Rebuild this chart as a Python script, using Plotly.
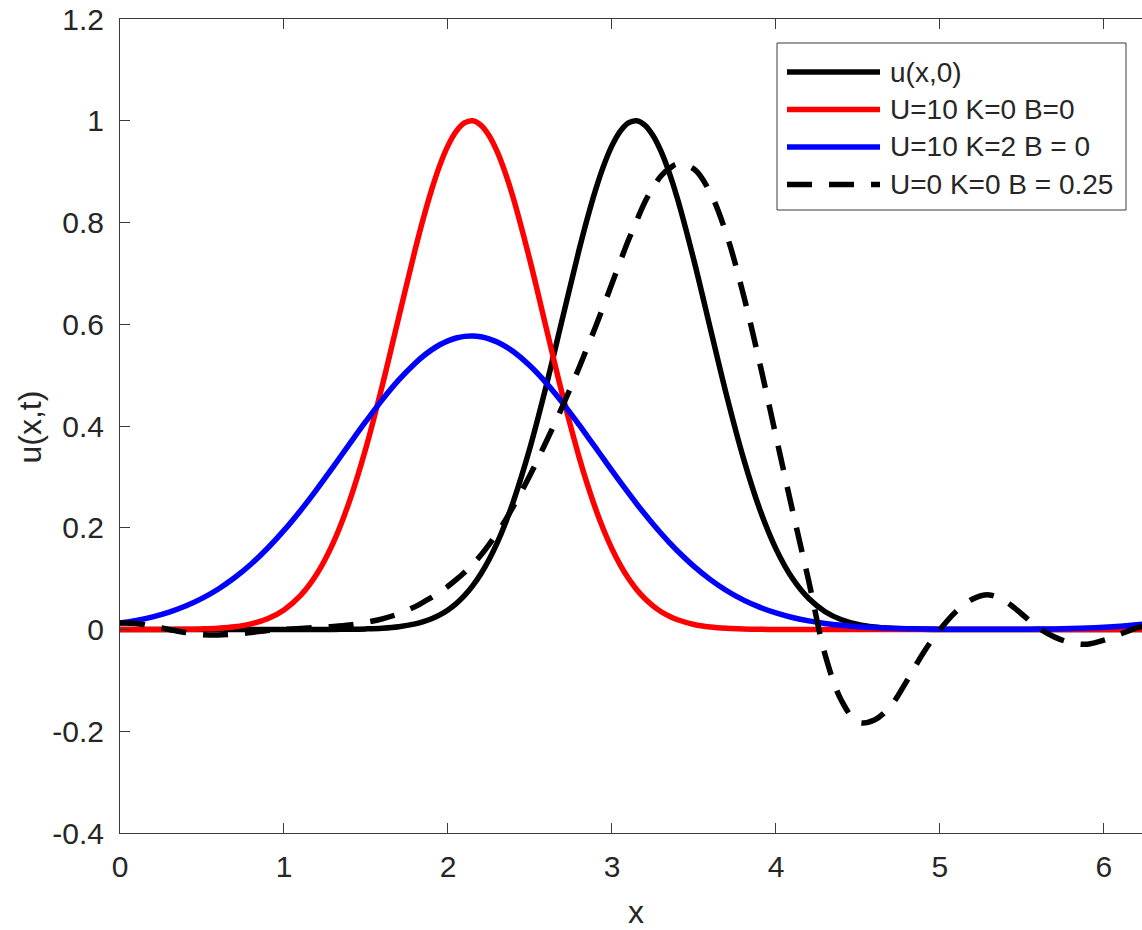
import plotly.graph_objects as go

# ---------------- data ----------------
x = [0.0, 0.1, 0.2, 0.3, 0.4, 0.5, 0.6, 0.7, 0.8, 0.9,
     1.0, 1.1, 1.2, 1.3, 1.4, 1.5, 1.6, 1.7, 1.8, 1.85, 1.9, 1.95,
     2.0, 2.05, 2.1, 2.15, 2.2, 2.25, 2.3, 2.35, 2.4, 2.5, 2.6, 2.7, 2.8, 2.85, 2.9, 2.95,
     3.0, 3.05, 3.1, 3.15, 3.2, 3.25, 3.3, 3.35, 3.4, 3.5, 3.6, 3.7, 3.8, 3.9,
     4.0, 4.1, 4.2, 4.3, 4.4, 4.5, 4.6, 4.7, 4.8, 4.9,
     5.0, 5.1, 5.2, 5.3, 5.4, 5.5, 5.6, 5.7, 5.8, 5.9,
     6.0, 6.1, 6.2, 6.3]

u_initial = [0, 0, 0, 0, 0, 0, 0, 0, 0, 0,
             0, 0, 0, 0.0002, 0.0005, 0.0012, 0.0026, 0.0055, 0.0111, 0.0154, 0.0212, 0.0287,
             0.0385, 0.0508, 0.0664, 0.0856, 0.1090, 0.1370, 0.1702, 0.2088, 0.2529, 0.3573, 0.4803, 0.6142, 0.7470, 0.8085, 0.8642, 0.9123,
             0.9511, 0.9792, 0.9957, 1.0, 0.9915, 0.9710, 0.9392, 0.8971, 0.8463, 0.7253, 0.5914, 0.4586, 0.3383, 0.2374,
             0.1585, 0.1006, 0.0608, 0.0349, 0.0191, 0.0099, 0.0049, 0.0023, 0.0010, 0.0004,
             0, 0, 0, 0, 0, 0, 0, 0, 0, 0,
             0, 0, 0, 0]

u_advect = [0, 0, 0, 0.0002, 0.0005, 0.0012, 0.0026, 0.0055, 0.0111, 0.0212,
            0.0385, 0.0664, 0.1090, 0.1702, 0.2529, 0.3573, 0.4803, 0.6142, 0.7470, 0.8085, 0.8642, 0.9123,
            0.9511, 0.9792, 0.9957, 1.0, 0.9915, 0.9710, 0.9392, 0.8971, 0.8463, 0.7253, 0.5914, 0.4586, 0.3383, 0.2852, 0.2374, 0.1952,
            0.1585, 0.1271, 0.1006, 0.0787, 0.0608, 0.0464, 0.0349, 0.0260, 0.0191, 0.0099, 0.0049, 0.0023, 0.0010, 0.0004,
            0, 0, 0, 0, 0, 0, 0, 0, 0, 0,
            0, 0, 0, 0, 0, 0, 0, 0, 0, 0,
            0, 0, 0, 0]

u_diffuse = [0.0126, 0.0179, 0.0249, 0.0342, 0.0461, 0.0611, 0.0796, 0.1021, 0.1288, 0.1597,
             0.1948, 0.2336, 0.2756, 0.3198, 0.3649, 0.4094, 0.4519, 0.4905, 0.5235, 0.5376, 0.5496, 0.5597,
             0.5674, 0.5730, 0.5762, 0.5770, 0.5754, 0.5714, 0.5651, 0.5565, 0.5458, 0.5184, 0.4843, 0.4450, 0.4021, 0.3798, 0.3573, 0.3347,
             0.3122, 0.2901, 0.2684, 0.2472, 0.2269, 0.2073, 0.1886, 0.1709, 0.1542, 0.1240, 0.0981, 0.0762, 0.0583, 0.0439,
             0.0325, 0.0236, 0.0169, 0.0119, 0.0082, 0.0056, 0.0038, 0.0025, 0.0016, 0.0010,
             0.0007, 0.0005, 0.0003, 0.0003, 0.0004, 0.0005, 0.0008, 0.0012, 0.0019, 0.0028,
             0.0043, 0.0064, 0.0093, 0.0134]

u_disperse = [0.013, 0.012, 0.006, 0.000, -0.006, -0.010, -0.011, -0.009, -0.006, -0.002,
              0.000, 0.002, 0.004, 0.006, 0.009, 0.014, 0.021, 0.031, 0.045, 0.054, 0.063, 0.073,
              0.085, 0.098, 0.112, 0.128, 0.146, 0.167, 0.190, 0.215, 0.243, 0.303, 0.370, 0.440, 0.515, 0.555, 0.595, 0.637,
              0.680, 0.723, 0.765, 0.803, 0.840, 0.868, 0.892, 0.906, 0.915, 0.905, 0.858, 0.775, 0.660, 0.525,
              0.380, 0.235, 0.095, -0.050, -0.140, -0.182, -0.178, -0.150, -0.100, -0.045,
              0.000, 0.036, 0.060, 0.068, 0.055, 0.030, 0.003, -0.015, -0.026, -0.029,
              -0.021, -0.009, 0.003, 0.012]

series_names = ["u(x,0)", "U=10 K=0 B=0", "U=10 K=2 B = 0", "U=0 K=0 B = 0.25"]

x_tick_vals = [0, 1, 2, 3, 4, 5, 6]
x_tick_text = ["0", "1", "2", "3", "4", "5", "6"]
y_tick_vals = [-0.4, -0.2, 0, 0.2, 0.4, 0.6, 0.8, 1.0, 1.2]
y_tick_text = ["-0.4", "-0.2", "0", "0.2", "0.4", "0.6", "0.8", "1", "1.2"]

x_title = "x"
y_title = "u(x,t)"

# ---------------- layout / style ----------------
W, H = 1142, 930
ML, MR, MT, MB = 120, 0, 19, 97
FONT = "Liberation Sans, Arial, Helvetica, sans-serif"
AXC = "#3a3a3a"
TXC = "#262626"
LW = 5.5
DASH = "25px,17px"

colors = ["#000000", "#ff0000", "#0000ff", "#000000"]
dashes = ["solid", "solid", "solid", DASH]
ys = [u_initial, u_advect, u_diffuse, u_disperse]


def pxx(p):
    return (p - ML) / (W - ML - MR)


def pxy(p):
    return (H - MB - p) / (H - MT - MB)


fig = go.Figure()
for name, yv, c, d in zip(series_names, ys, colors, dashes):
    fig.add_trace(go.Scatter(x=x, y=yv, mode="lines", name=name,
                             line=dict(color=c, width=LW, dash=d, shape="spline", smoothing=1.0),
                             showlegend=False, hoverinfo="skip"))

axis_common = dict(showgrid=False, zeroline=False, showline=True, linecolor=AXC, linewidth=1,
                   ticks="inside", ticklen=10, tickwidth=1, tickcolor=AXC,
                   tickfont=dict(family=FONT, size=30, color=TXC))

fig.update_xaxes(range=[0, 6.232], tickvals=x_tick_vals, ticktext=x_tick_text,
                 mirror="ticks", ticklabelstandoff=7, **axis_common)
fig.update_yaxes(range=[-0.4, 1.2], tickvals=y_tick_vals, ticktext=y_tick_text,
                 mirror=False, ticklabelstandoff=9, **axis_common)

shapes = []
annotations = []

# legend box (drawn manually to match long line samples)
shapes.append(dict(type="rect", xref="paper", yref="paper",
                   x0=pxx(777), x1=pxx(1126), y0=pxy(210), y1=pxy(43),
                   line=dict(color=AXC, width=1), fillcolor="white", layer="above"))
row_y = [72, 109.5, 147, 184.5]
for name, c, d, ry in zip(series_names, colors, dashes, row_y):
    shapes.append(dict(type="line", xref="paper", yref="paper",
                       x0=pxx(787), x1=pxx(880), y0=pxy(ry), y1=pxy(ry),
                       line=dict(color=c, width=LW, dash=d), layer="above"))
    annotations.append(dict(xref="paper", yref="paper", x=pxx(888), y=pxy(ry),
                            text=name, showarrow=False, xanchor="left", yanchor="middle",
                            font=dict(family=FONT, size=28, color=TXC)))

# axis titles
annotations.append(dict(xref="paper", yref="paper", x=pxx(636), y=pxy(912), text=x_title,
                        showarrow=False, xanchor="center", yanchor="middle", height=26,
                        font=dict(family=FONT, size=32, color=TXC)))
annotations.append(dict(xref="paper", yref="paper", x=pxx(29.5), y=pxy(427), text=y_title,
                        showarrow=False, xanchor="center", yanchor="middle", textangle=-90,
                        font=dict(family=FONT, size=32, color=TXC)))

fig.update_layout(width=W, height=H, margin=dict(l=ML, r=MR, t=MT, b=MB, pad=0),
                  plot_bgcolor="white", paper_bgcolor="white", showlegend=False,
                  shapes=shapes, annotations=annotations, font=dict(family=FONT))

fig.write_html("out.html", config={"displayModeBar": False},
               post_script="document.body.style.margin='0px';document.body.style.overflow='hidden';")
